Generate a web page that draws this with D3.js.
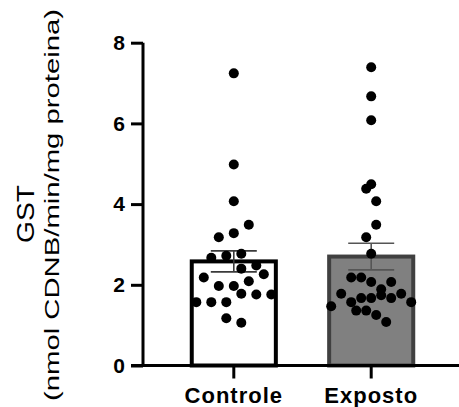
<!DOCTYPE html>
<html>
<head>
<meta charset="utf-8">
<script src="https://cdn.jsdelivr.net/npm/d3@7"></script>
<style>
  body { margin: 0; background: #fff; }
  svg { display: block; font-family: "Liberation Sans", Arial, sans-serif; }
</style>
</head>
<body>
<div id="chart"></div>
<script>
const groups = ["Controle", "Exposto"];
const means = [2.58, 2.70];
const sems = [0.26, 0.33];
const yTicks = [0, 2, 4, 6, 8];

// individual animals, with the column slot each dot sits in
const controle = [7.24, 4.98, 4.07, 3.49, 3.28, 3.18, 2.77, 2.72, 2.67, 2.48, 2.40, 2.26,
  2.18, 2.09, 1.97, 1.97, 1.78, 1.76, 1.76, 1.57, 1.57, 1.57, 1.17, 1.06];
const controleSlot = [0, 0, 0, 3, 0, -3, 1.5, -1.5, -4.5, 4.5, 1.5, 6,
  -6, 3, -3, 0, 1.5, 4.5, 7.5, -7.5, -4.5, -1.5, -1.5, 1.5];
const exposto = [7.39, 6.67, 6.08, 4.49, 4.38, 4.07, 3.49, 3.18, 2.77, 2.18, 2.18, 2.07,
  2.07, 1.89, 1.78, 1.78, 1.74, 1.67, 1.67, 1.67, 1.57, 1.57, 1.47, 1.36, 1.36, 1.25, 1.08];
const expostoSlot = [0, 0, 0, 0, -1, 1, 1, -1, 0, -4, -2, 0,
  4, 2, -6, 6, 2, -2, 0, 4, -4, 8, -8, -3, -1, 1, 3];

const points = [
  ...controle.map((v, i) => ({ group: "Controle", value: v, slot: controleSlot[i] })),
  ...exposto.map((v, i) => ({ group: "Exposto", value: v, slot: expostoSlot[i] }))
];
const summary = groups.map((g, i) => ({ group: g, mean: means[i], sem: sems[i] }));

const fills = { Controle: "#ffffff", Exposto: "#808080" };
const strokes = { Controle: "#000000", Exposto: "#404040" };
const errColor = { Controle: "#3a3a3a", Exposto: "#555555" };

// dimensions
const W = 459, H = 407;
const margin = { top: 42.7, left: 143 };
const width = W - margin.left;
const height = 365.5 - margin.top;

const svg = d3.select("#chart").append("svg")
  .attr("width", W)
  .attr("height", H)
  .append("g")
  .attr("transform", `translate(${margin.left},${margin.top})`);

// scales
const x = d3.scaleBand()
  .domain(groups)
  .range([22.1, 296.9])
  .paddingInner(0.388)
  .paddingOuter(0.194);

const y = d3.scaleLinear()
  .domain([0, 8])
  .range([height, 0]);

const jitter = d3.scaleLinear().domain([0, 1]).range([0, 5]);

// bars
svg.selectAll(".bar")
  .data(summary)
  .join("rect")
  .attr("class", "bar")
  .attr("x", d => x(d.group))
  .attr("width", x.bandwidth())
  .attr("y", d => y(d.mean))
  .attr("height", d => y(0) - y(d.mean))
  .attr("fill", d => fills[d.group])
  .attr("stroke", d => strokes[d.group])
  .attr("stroke-width", 4);

// error bars (mean +/- SEM)
const cap = 23;
const err = svg.selectAll(".err")
  .data(summary)
  .join("g")
  .attr("class", "err")
  .attr("stroke", d => errColor[d.group])
  .attr("stroke-width", 1.6);

err.append("line")
  .attr("x1", d => x(d.group) + x.bandwidth() / 2)
  .attr("x2", d => x(d.group) + x.bandwidth() / 2)
  .attr("y1", d => y(d.mean - d.sem))
  .attr("y2", d => y(d.mean + d.sem));

[-1, 1].forEach(s => {
  err.append("line")
    .attr("x1", d => x(d.group) + x.bandwidth() / 2 - cap)
    .attr("x2", d => x(d.group) + x.bandwidth() / 2 + cap)
    .attr("y1", d => y(d.mean + s * d.sem))
    .attr("y2", d => y(d.mean + s * d.sem));
});

// dots
svg.selectAll(".dot")
  .data(points)
  .join("circle")
  .attr("class", "dot")
  .attr("cx", d => x(d.group) + x.bandwidth() / 2 + jitter(d.slot))
  .attr("cy", d => y(d.value))
  .attr("r", 5)
  .attr("fill", "#000");

// axes
const yAxis = svg.append("g")
  .call(d3.axisLeft(y).tickValues(yTicks).tickSize(12).tickPadding(6));
yAxis.select(".domain").attr("stroke-width", 3).attr("d", `M0,${height + 1.5}V0`);
yAxis.selectAll(".tick line").attr("stroke-width", 3);
yAxis.selectAll(".tick text")
  .style("font-size", "21px")
  .style("font-weight", "bold")
  .attr("fill", "#000");

const xAxis = svg.append("g")
  .attr("transform", `translate(0,${height})`)
  .call(d3.axisBottom(x).tickSize(13).tickPadding(8.5));
xAxis.select(".domain").attr("stroke-width", 3).attr("d", `M-12,0H${width}`);
xAxis.selectAll(".tick line").attr("stroke-width", 3);
xAxis.selectAll(".tick text")
  .style("font-size", "22px")
  .style("font-weight", "bold")
  .style("letter-spacing", "1px")
  .attr("fill", "#000");

// y label, two lines
svg.append("text")
  .attr("transform", `translate(${33.5 - margin.left},${214 - margin.top}) rotate(-90)`)
  .attr("text-anchor", "middle")
  .attr("textLength", 58)
  .attr("lengthAdjust", "spacingAndGlyphs")
  .style("font-size", "23px")
  .text("GST");

svg.append("text")
  .attr("transform", `translate(${58.5 - margin.left},${205 - margin.top}) rotate(-90)`)
  .attr("text-anchor", "middle")
  .attr("textLength", 392)
  .attr("lengthAdjust", "spacingAndGlyphs")
  .style("font-size", "20px")
  .text("(nmol CDNB/min/mg proteina)");
</script>
</body>
</html>
